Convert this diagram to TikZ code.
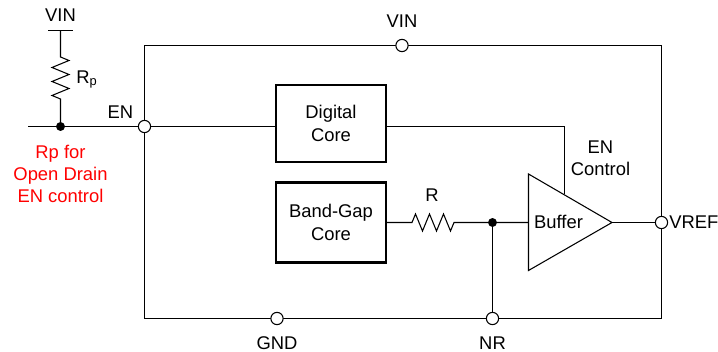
\documentclass[tikz,border=0pt]{standalone}
\usepackage{fontspec}
\setmainfont{Liberation Sans}
\usetikzlibrary{calc}
\tikzset{
  wire/.style={draw=black,line width=0.8pt,line join=miter},
  pin/.style={circle,draw=black,fill=white,line width=0.8pt,minimum size=9.2pt,inner sep=0pt},
  junction/.style={circle,fill=black,minimum size=6.7pt,inner sep=0pt},
  corebox/.style={draw=black,line width=1.6pt,align=center,font=\fontsize{13.8}{16.8}\selectfont,minimum width=82.5pt,minimum height=58pt,inner sep=0pt},
  lbl/.style={font=\fontsize{13.8}{16.8}\selectfont,text=black,inner sep=0pt,align=center},
  redlbl/.style={font=\fontsize{13.8}{16.5}\selectfont,text=red,inner sep=0pt,align=center},
}
\begin{document}
\begin{tikzpicture}[x=0.75pt,y=-0.75pt]
\useasboundingbox (0,0) rectangle (718,352);
% coordinates
\coordinate (tl) at (144.5,45.5);
\coordinate (tr) at (661.5,45.5);
\coordinate (bl) at (144.5,318.5);
\coordinate (br) at (661.5,318.5);
\coordinate (ctop) at (60.5,30.5);
\coordinate (barL) at (48,30.5);
\coordinate (barR) at (73,30.5);
\coordinate (enL) at (28,126.5);
\coordinate (r1a) at (60.5,57);
\coordinate (r2a) at (412,222.5);
\coordinate (r2b) at (454,222.5);
\coordinate (buf1) at (528.5,174);
\coordinate (buf2) at (528.5,270.5);
\coordinate (buf3) at (612,222.5);
\coordinate (ctlT) at (564.5,126.5);
\coordinate (ctlB) at (564.5,194);
% block outline
\draw[wire] (tl) -- (tr) -- (br) -- (bl) -- cycle;
% boxes
\node[corebox,fill=white] (dig) at (331,123.5) {Digital\\Core};
\node[corebox,fill=white,minimum height=60pt] (bg) at (331,222.5) {Band-Gap\\Core};
% pins
\node[pin] (en) at (144.5,126.5) {};
\node[junction] (j1) at (60.5,126.5) {};
\node[junction] (j2) at (492.5,222.5) {};
% buffer
\draw[wire,fill=white] (buf1) -- (buf3) -- (buf2) -- cycle;
% wires
\draw[wire] (enL) -- (j1) -- (en) -- (dig.west |- en);
\draw[wire] (barL) -- (barR);
\draw[wire] (ctop) -- (r1a) -- ++(8.5,3.5) -- ++(-17,7) -- ++(17,7) -- ++(-17,7) -- ++(17,7) -- ++(-17,7) -- ++(8.5,3.5) -- (j1);
\draw[wire] (bg.east |- j2) -- (r2a) -- ++(3.5,-8.5) -- ++(7,17) -- ++(7,-17) -- ++(7,17) -- ++(7,-17) -- ++(7,17) -- (r2b) -- (j2) -- (j2 -| buf1);
\draw[wire] (dig.east |- ctlT) -- (ctlT) -- (ctlB);
\node[pin] (nr) at (492.5,318.5) {};
\draw[wire] (j2) -- (nr);
\node[pin] (vref) at (661.5,222.5) {};
\draw[wire] (buf3) -- (vref);
\node[pin] (vin) at (402,45.5) {};
\node[pin] (gnd) at (277,318.5) {};
% labels
\node[lbl] (lvin1) at (60.5,15.5) {VIN};
\node[lbl] (lvin2) at (402,21.5) {VIN};
\node[lbl,anchor=west] (lrp) at (76,79.5) {R\textsubscript{p}};
\node[lbl] (len) at (120.5,112.5) {EN};
\node[redlbl] (lred) at (60.5,174) {Rp for\\Open Drain\\EN control};
\node[lbl] (lr) at (432,195) {R};
\node[lbl] (lbuf) at (558.5,222) {Buffer};
\node[lbl] (lctl) at (600.5,158.5) {EN\\Control};
\node[lbl,anchor=west] (lvref) at (669,222) {VREF};
\node[lbl] (lgnd) at (277,343.5) {GND};
\node[lbl] (lnr) at (492.5,343.5) {NR};
\end{tikzpicture}
\end{document}
